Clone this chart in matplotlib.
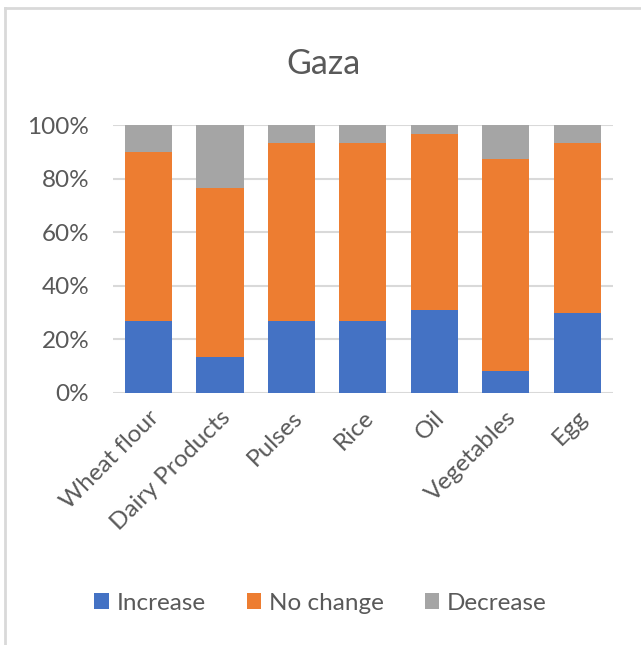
import matplotlib.pyplot as plt
from matplotlib.lines import Line2D
from matplotlib.ticker import PercentFormatter

plt.rcParams['font.family'] = ['Lato', 'DejaVu Sans']

# data (shares, %)
items = ['Wheat flour', 'Dairy Products', 'Pulses', 'Rice', 'Oil', 'Vegetables', 'Egg']
increase = [26.7, 13.3, 26.7, 26.7, 31.0, 8.3, 30.0]
no_change = [63.3, 63.3, 66.6, 66.6, 65.5, 79.0, 63.3]
decrease = [10.0, 23.4, 6.7, 6.7, 3.5, 12.7, 6.7]

colors = ['#4472C4', '#ED7D31', '#A5A5A5']
txt = '#595959'
grid = '#D9D9D9'

fig = plt.figure(figsize=(6.41, 6.45), dpi=100)
ax = fig.add_axes([0.176, 0.391, 0.78, 0.415])

x = range(len(items))
w = 0.66
b1 = ax.bar(x, increase, w, color=colors[0], label='Increase', zorder=3)
bottom2 = [a for a in increase]
b2 = ax.bar(x, no_change, w, bottom=bottom2, color=colors[1], label='No change', zorder=3)
bottom3 = [a + b for a, b in zip(increase, no_change)]
b3 = ax.bar(x, decrease, w, bottom=bottom3, color=colors[2], label='Decrease', zorder=3)

ax.set_xlim(-0.5, len(items) - 0.5)
ax.set_ylim(0, 100)
ax.set_yticks([0, 20, 40, 60, 80, 100])
ax.yaxis.set_major_formatter(PercentFormatter(decimals=0))
ax.grid(axis='y', color=grid, linewidth=1.5, zorder=0)
for s in ax.spines.values():
    s.set_visible(False)
ax.tick_params(length=0, labelsize=17.5, colors=txt)
ax.tick_params(axis='y', pad=17)
ax.tick_params(axis='x', pad=10)
ax.set_xticks(list(x))
ax.set_xticklabels(items, rotation=45, ha='right', rotation_mode='anchor')

fig.text(0.505, 0.9, 'Gaza', ha='center', va='center', fontsize=24.5, color=txt)

fig.legend(handles=[b1, b2, b3], loc='center', bbox_to_anchor=(0.5, 0.065), ncol=3,
           frameon=False, fontsize=17.5, labelcolor=txt, handlelength=0.6, handleheight=0.6,
           handletextpad=0.3, columnspacing=1.7)

# chart frame (partly cropped in the screenshot)
fig.add_artist(Line2D([5 / 641, 1], [1 - 8 / 645, 1 - 8 / 645], color=grid, lw=2))
fig.add_artist(Line2D([5 / 641, 5 / 641], [0, 1 - 8 / 645], color=grid, lw=2))

fig.savefig('out.png', dpi=100)
